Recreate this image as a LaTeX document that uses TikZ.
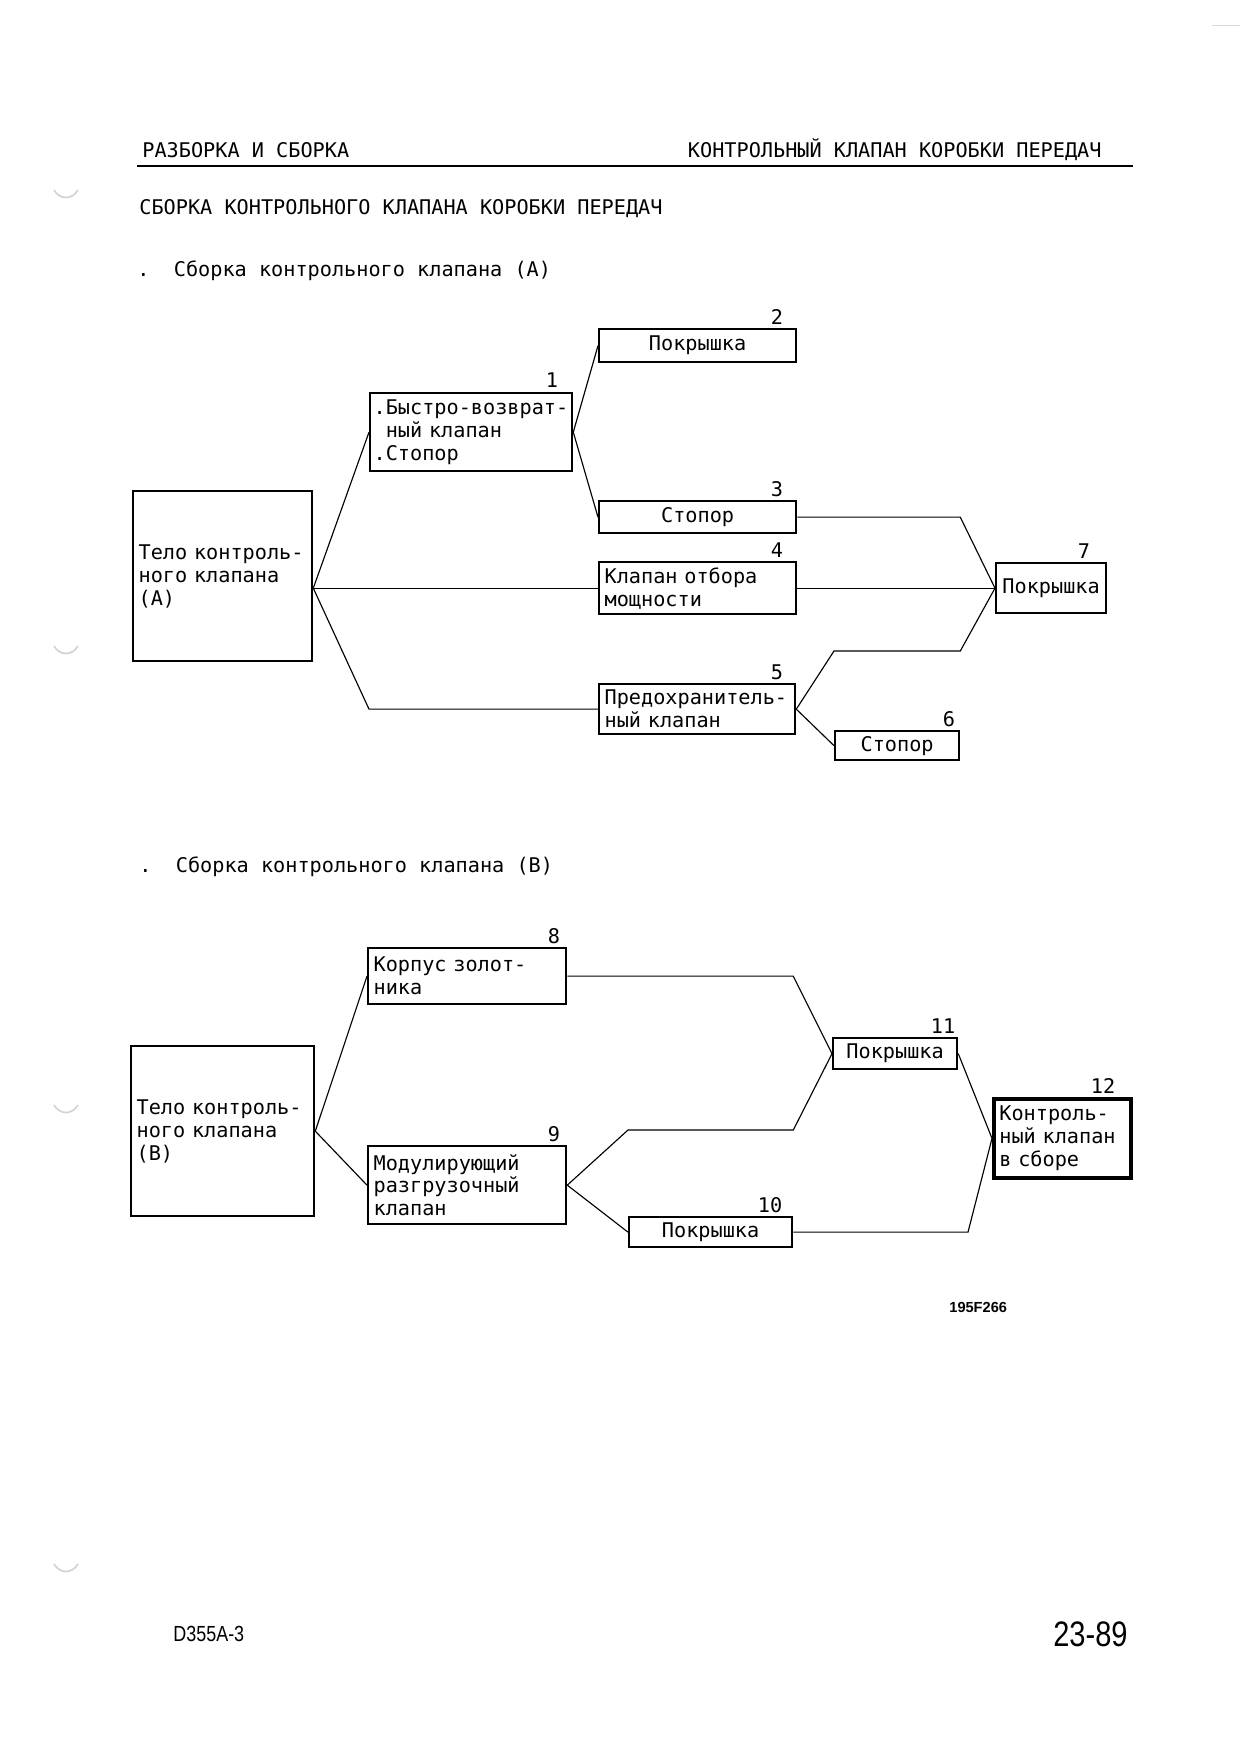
\documentclass[tikz,border=0pt]{standalone}
\usepackage{fontspec}
\usepackage{tikz}
\newfontfamily\monofont{DejaVu Sans Mono}
\newfontfamily\footfont[FakeStretch=0.82]{Liberation Sans}
\newfontfamily\figfont{Liberation Sans}
\newcommand{\px}{0.48pt}
\newcommand{\partfont}{\monofont\fontsize{9.7}{11}\selectfont}
\newcommand{\headfont}{\monofont\fontsize{9.7}{11}\selectfont}

\begin{document}
\begin{tikzpicture}[x=0.48pt, y=-0.48pt,
		part/.style={draw, line width=1.1pt, anchor=north west, inner sep=0pt, font=\partfont, align=left},
		wh/.style 2 args={minimum width={#1*\px}, minimum height={#2*\px}, text width={(#1-11)*\px}},
		num/.style={anchor=south, inner sep=0pt, font=\partfont},
		head/.style={inner sep=0pt, font=\headfont},
		link/.style={line width=0.55pt},
		hole/.style={gray!35, line width=0.8pt}]
			\useasboundingbox (0,0) rectangle (1240,1755);
			
			%Cabecalho
			\node[head, anchor=west] (hdrL) at (142,150) {РАЗБОРКА И СБОРКА};
			\node[head, anchor=east] (hdrR) at (1102,150) {КОНТРОЛЬНЫЙ КЛАПАН КОРОБКИ ПЕРЕДАЧ};
			\draw[line width=1.3pt] (137,166) -- (1133,166);
			\node[head, anchor=west] (title) at (139,209) {СБОРКА КОНТРОЛЬНОГО КЛАПАНА КОРОБКИ ПЕРЕДАЧ};
			\draw[gray!30] (1212,25) -- (1240,25);
			\foreach \yy in {196,652,1111,1570}
				\draw[hole] (54,\yy-6) .. controls (60,\yy+4) and (72,\yy+4) .. (78,\yy-6);
			
			%Valvula (A)
			\node[head, anchor=west] (subA) at (137,271) {.~~Сборка контрольного клапана (A)};
			\node[part, wh={179}{170}] (bodyA) at (132,490) {\mbox{Тело контроль-}\\ного~клапана\\(A)};
			\node[part, wh={202}{78}, text width={195*\px}] (b1) at (369,392) {\mbox{.Быстро-возврат-}\\\phantom{.}ный~клапан\\.Стопор};
			\node[part, wh={197}{33}, align=center] (b2) at (598,328) {Покрышка};
			\node[part, wh={197}{32}, align=center] (b3) at (598,500) {Стопор};
			\node[part, wh={197}{52}] (b4) at (598,561) {Клапан~отбора\\мощности};
			\node[part, wh={196}{50}] (b5) at (598,683) {\mbox{Предохранитель-}\\ный~клапан};
			\node[part, wh={124}{29}, align=center] (b6) at (834,730) {Стопор};
			\node[part, wh={110}{50}, align=center] (b7) at (995,562) {Покрышка};
			\node[num] (n1) at (552,388) {1};
			\node[num] (n2) at (777,325) {2};
			\node[num] (n3) at (777,497) {3};
			\node[num] (n4) at (777,558) {4};
			\node[num] (n5) at (777,680) {5};
			\node[num] (n6) at (949,727) {6};
			\node[num] (n7) at (1084,559) {7};
			
			\coordinate (jA) at (bodyA.east |- b4.west);
			\draw[link] (jA) -- (b1.west);
			\draw[link] (jA) -- (b4.west);
			\draw[link] (jA) -- (b1.west |- b5.west) -- (b5.west);
			\draw[link] (b1.east) -- (b2.west);
			\draw[link] (b1.east) -- (b3.west);
			\draw[link] (b3.east) -- (b3.east -| b6.east) -- (b7.west);
			\draw[link] (b4.east) -- (b7.west);
			\draw[link] (b5.east) -- (b6.west |- 0,651) -- (b6.east |- 0,651) -- (b7.west);
			\draw[link] (b5.east) -- (b6.west);
			
			%Valvula (B)
			\node[head, anchor=west] (subB) at (139,867) {.~~Сборка контрольного клапана (B)};
			\node[part, wh={183}{170}] (bodyB) at (130,1045) {\mbox{Тело контроль-}\\ного~клапана\\(B)};
			\node[part, wh={198}{56}] (b8) at (367,947) {\mbox{Корпус золот-}\\ника};
			\node[part, wh={198}{78}] (b9) at (367,1145) {Модулирующий\\разгрузочный\\клапан};
			\node[part, wh={163}{30}, align=center] (b10) at (628,1216) {Покрышка};
			\node[part, wh={124}{31}, align=center] (b11) at (832,1037) {Покрышка};
			\node[part, wh={137}{79}, line width=1.8pt] (b12) at (992,1097) {\mbox{Контроль-}\\ный~клапан\\в~сборе};
			\node[num] (n8) at (554,944) {8};
			\node[num] (n9) at (554,1142) {9};
			\node[num] (n10) at (770,1213) {10};
			\node[num] (n11) at (943,1034) {11};
			\node[num] (n12) at (1103,1094) {12};
			
			\draw[link] (bodyB.east) -- (b8.west);
			\draw[link] (bodyB.east) -- (b9.west);
			\draw[link] (b8.east) -- (b8.east -| b10.east) -- (b11.west);
			\draw[link] (b9.east) -- (b10.west |- 0,1130) -- (b10.east |- 0,1130) -- (b11.west);
			\draw[link] (b9.east) -- (b10.west);
			\draw[link] (b10.east) -- (b10.east -| 968,0) -- (b12.west);
			\draw[link] (b11.east) -- (b12.west);
			
			%Rodape
			\node[anchor=west, inner sep=0pt, font=\figfont\bfseries\fontsize{7}{8}\selectfont] (fig) at (949,1307) {195F266};
			\node[anchor=west, inner sep=0pt, font=\footfont\fontsize{10.5}{12}\selectfont] (model) at (173,1634) {D355A-3};
			\node[anchor=east, inner sep=0pt, font=\footfont\fontsize{17}{20}\selectfont] (page) at (1128,1634) {23-89};
		\end{tikzpicture}
\end{document}
